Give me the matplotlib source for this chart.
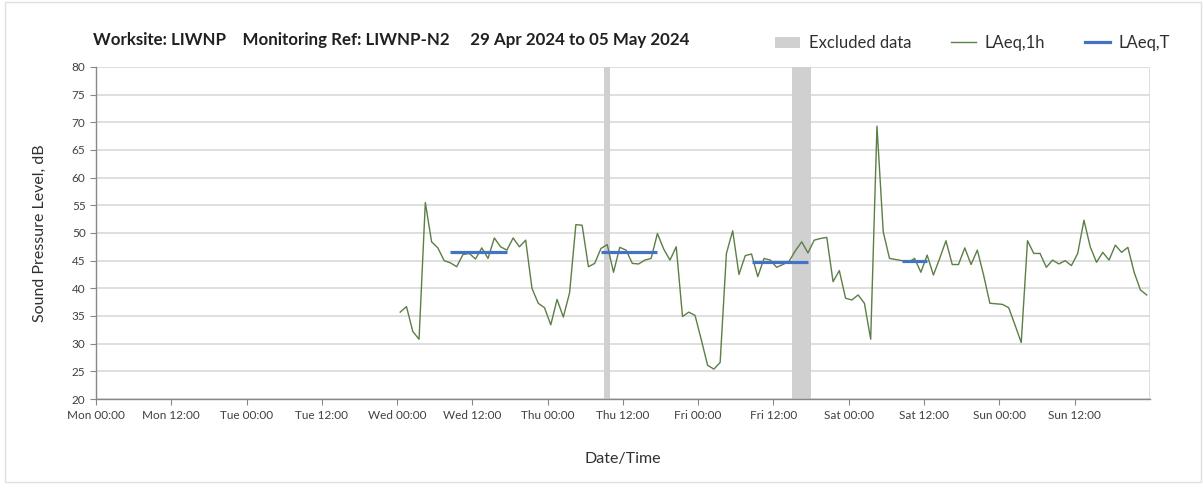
import numpy as np
import pandas as pd
import matplotlib
matplotlib.use("Agg")
import matplotlib.pyplot as plt
import matplotlib.dates as mdates
from matplotlib.patches import Patch, Rectangle
from matplotlib.lines import Line2D

plt.rcParams['font.family'] = ['Lato', 'DejaVu Sans']

# hourly LAeq,1h values from Wed 01 May 00:00, plotted at mid-hour
laeq_1h = [35.7, 36.7, 32.2, 30.8, 55.5, 48.4, 47.3, 45.0, 44.6, 43.9,
           46.1, 46.3, 45.3, 47.3, 45.4, 49.1, 47.5, 46.9, 49.1, 47.5,
           48.7, 40.0, 37.3, 36.5, 33.4, 38.0, 34.8, 39.2, 51.5, 51.4,
           43.9, 44.5, 47.2, 47.9, 42.9, 47.4, 46.9, 44.5, 44.4, 45.1,
           45.4, 49.9, 47.1, 45.1, 47.5, 34.9, 35.7, 35.1, 30.7, 26.1,
           25.4, 26.6, 46.3, 50.4, 42.5, 45.9, 46.2, 42.1, 45.4, 45.1,
           43.8, 44.3, 44.9, 46.8, 48.4, 46.4, 48.7, 49.0, 49.2, 41.2,
           43.2, 38.2, 37.9, 38.8, 37.3, 30.8, 69.3, 50.2, 45.4, 45.2,
           45.0, 44.7, 45.4, 42.9, 46.0, 42.4, 45.4, 48.6, 44.3, 44.3,
           47.3, 44.3, 46.9, 42.4, 37.3, 37.2, 37.1, 36.5, 33.4, 30.2,
           48.6, 46.3, 46.3, 43.8, 45.1, 44.4, 45.0, 44.1, 46.3, 52.3,
           47.5, 44.7, 46.5, 45.1, 47.8, 46.5, 47.4, 42.9, 39.7, 38.8]
times = pd.date_range("2024-05-01 00:30", periods=len(laeq_1h), freq="h")

# LAeq,T periods
laeq_t_start = ["2024-05-01 08:30", "2024-05-02 08:30", "2024-05-03 08:30", "2024-05-04 08:30"]
laeq_t_end = ["2024-05-01 17:30", "2024-05-02 17:30", "2024-05-03 17:30", "2024-05-04 12:30"]
laeq_t_value = [46.6, 46.6, 44.7, 44.9]

# excluded periods
excl_start = ["2024-05-02 09:00", "2024-05-03 15:00"]
excl_end = ["2024-05-02 10:00", "2024-05-03 18:00"]

green = '#5b7f45'
blue = '#4472c4'
grey_band = '#d0d0d0'
grid_col = '#d9d9d9'

fig = plt.figure(figsize=(12.03, 4.92), dpi=100)
ax = fig.add_axes([0.0798, 0.189, 0.876, 0.675])

for s, e in zip(excl_start, excl_end):
    ax.axvspan(pd.Timestamp(s), pd.Timestamp(e), color=grey_band, lw=0, zorder=1)

ax.plot(times, laeq_1h, color=green, lw=1.0, zorder=3)
for s, e, v in zip(laeq_t_start, laeq_t_end, laeq_t_value):
    ax.plot([pd.Timestamp(s), pd.Timestamp(e)], [v, v], color=blue, lw=2.3,
            solid_capstyle='butt', zorder=4)

ax.set_xlim(pd.Timestamp("2024-04-29 00:00"), pd.Timestamp("2024-05-06 00:00"))
ax.set_ylim(20, 80)
ax.set_yticks(np.arange(20, 81, 5))

x_ticks = pd.date_range("2024-04-29 00:00", periods=14, freq="12h")
ax.set_xticks(x_ticks)
ax.xaxis.set_major_formatter(mdates.DateFormatter('%a %H:%M'))
ax.xaxis.set_minor_locator(mdates.DayLocator())
ax.grid(which='minor', axis='x', color=grid_col, lw=1.2)
ax.grid(which='major', axis='y', color=grid_col, lw=1.2)
ax.set_axisbelow(True)
ax.tick_params(axis='x', which='minor', length=0)
ax.tick_params(axis='x', which='major', length=4, color='#888888', labelsize=8.5,
               labelcolor='#404040', pad=4)
ax.tick_params(axis='y', length=4, color='#888888', labelsize=8.5, labelcolor='#404040')

for side in ['top', 'right']:
    ax.spines[side].set_visible(False)
for side in ['left', 'bottom']:
    ax.spines[side].set_color('#888888')
    ax.spines[side].set_linewidth(1.0)

ax.set_ylabel('Sound Pressure Level, dB', fontsize=11.5, color='#303030', labelpad=18)
ax.set_xlabel('Date/Time', fontsize=11.5, color='#303030', labelpad=22)

fig.text(0.0775, 0.918, 'Worksite: LIWNP    Monitoring Ref: LIWNP-N2     29 Apr 2024 to 05 May 2024',
         fontsize=12.2, fontweight='bold', color='#202020', va='center', ha='left')

handles = [Patch(facecolor=grey_band, edgecolor='none'),
           Line2D([0], [0], color=green, lw=1.0),
           Line2D([0], [0], color=blue, lw=2.3)]
labels = ['Excluded data', 'LAeq,1h', 'LAeq,T']
fig.legend(handles, labels, loc='center right', bbox_to_anchor=(0.985, 0.912), ncol=3,
           frameon=False, fontsize=12, handlelength=1.5, columnspacing=2.4,
           handletextpad=0.5, labelcolor='#303030')

fig.patches.append(Rectangle((0.004, 0.02), 0.994, 0.975, transform=fig.transFigure,
                             fill=False, edgecolor='#e0e0e0', lw=1.0))

fig.savefig('out.png', dpi=100)
